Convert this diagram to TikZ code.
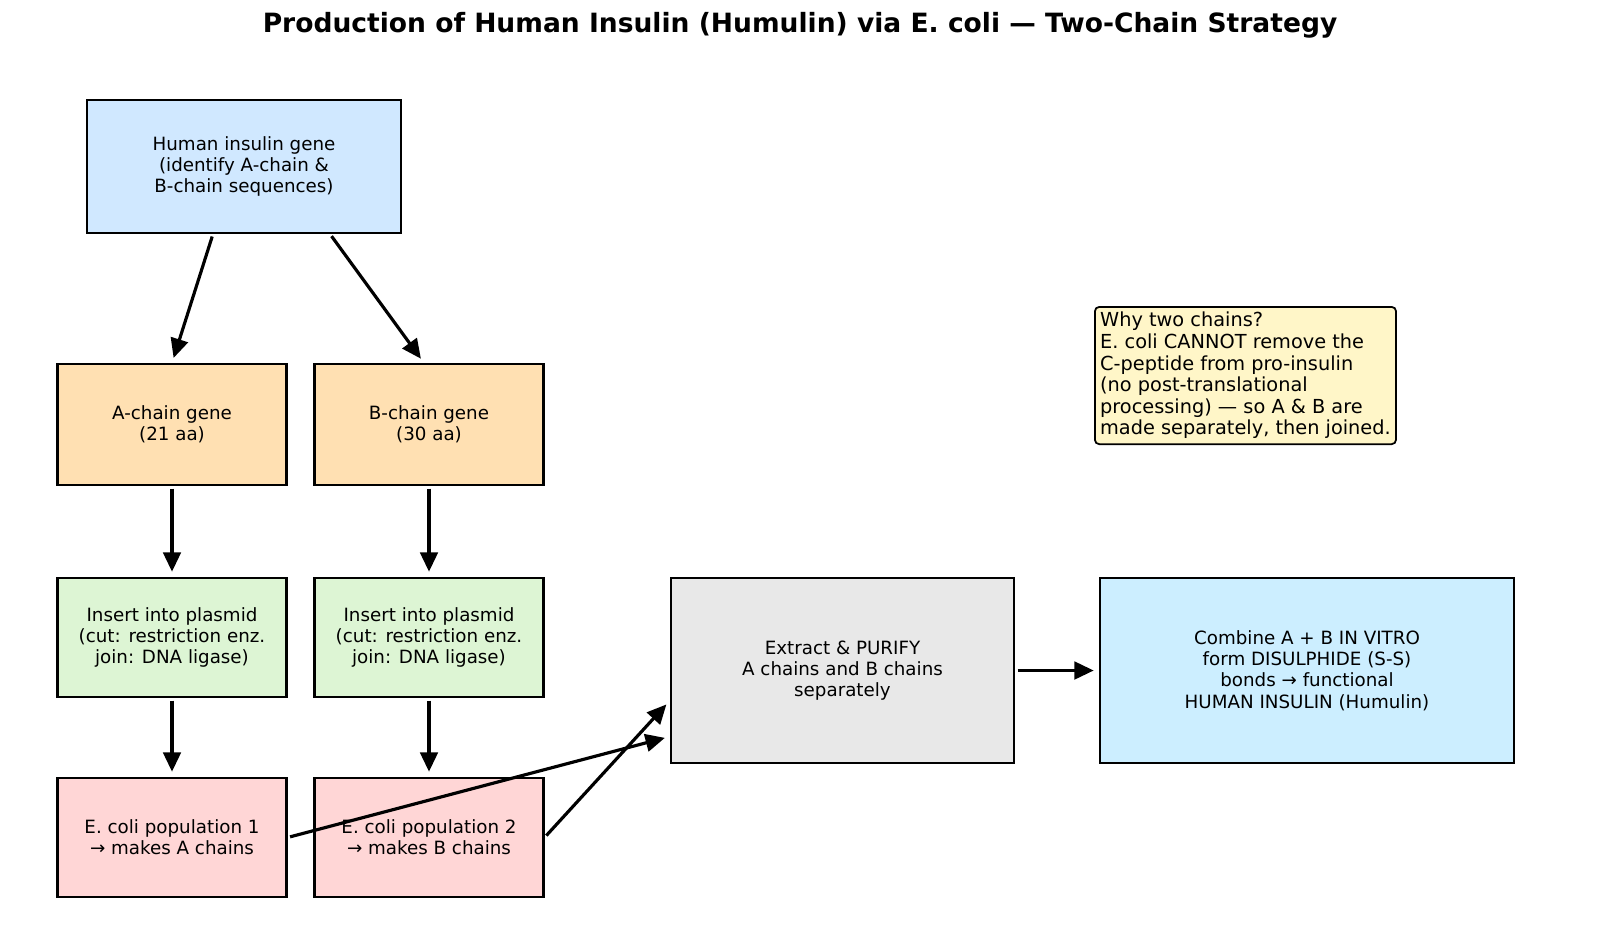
\documentclass[tikz,border=0pt]{standalone}
\usepackage{fontspec}
\setmainfont{DejaVu Sans}
\usetikzlibrary{arrows.meta,calc}
\definecolor{genecol}{RGB}{208,232,255}
\definecolor{chaincol}{RGB}{255,224,178}
\definecolor{plascol}{RGB}{221,245,212}
\definecolor{popcol}{RGB}{255,214,214}
\definecolor{purcol}{RGB}{232,232,232}
\definecolor{combcol}{RGB}{204,238,255}
\definecolor{notecol}{RGB}{255,246,200}
\begin{document}
\begin{tikzpicture}[x=0.02cm,y=-0.02cm,font=\fontsize{10.4}{12.1}\selectfont,
  box/.style={draw,line width=1.2pt,align=center,inner sep=0pt},
  arr/.style={-{Triangle[length=11pt,width=10pt]},line width=1.8pt,shorten >=3pt,shorten <=1.5pt}]
  \useasboundingbox (0,0) rectangle (1600,938);
  \node[font=\fontsize{15.1}{18}\selectfont\bfseries] (title) at (800,25)
    {Production of Human Insulin (Humulin) via E. coli — Two-Chain Strategy};

  \node[box,fill=genecol,minimum width=6.28cm,minimum height=2.66cm] (hum) at (244,166.5)
    {Human insulin gene\\(identify A-chain \&\\B-chain sequences)};
  \node[box,fill=chaincol,minimum width=4.58cm,minimum height=2.42cm] (agene) at (172,424.5) {A-chain gene\\(21 aa)};
  \node[box,fill=chaincol,minimum width=4.58cm,minimum height=2.42cm] (bgene) at (429,424.5) {B-chain gene\\(30 aa)};
  \foreach \n/\x in {a/172,b/429}{
    \node[box,fill=plascol,minimum width=4.58cm,minimum height=2.38cm] (\n plas) at (\x,637.5)
      {Insert into plasmid\\(cut: restriction enz.\\join: DNA ligase)};}
  \node[box,fill=popcol,minimum width=4.58cm,minimum height=2.38cm] (apop) at (172,837.5) {E. coli population 1\\→ makes A chains};
  \node[box,fill=popcol,minimum width=4.58cm,minimum height=2.38cm] (bpop) at (429,837.5) {E. coli population 2\\→ makes B chains};

  \node[box,fill=purcol,minimum width=6.86cm,minimum height=3.7cm] (purify) at (842.5,670.5)
    {Extract \& PURIFY\\A chains and B chains\\separately};
  \node[box,fill=combcol,minimum width=8.28cm,minimum height=3.7cm] (combine) at (1307,670.5)
    {Combine A + B IN VITRO\\form DISULPHIDE (S-S)\\bonds → functional\\HUMAN INSULIN (Humulin)};

  \node[draw,line width=1pt,fill=notecol,rounded corners=2.5pt,align=left,inner sep=3pt,anchor=north west,
    font=\fontsize{11}{12.3}\selectfont] (note) at (1094,306)
    {Why two chains?\\E. coli CANNOT remove the\\C-peptide from pro-insulin\\(no post-translational\\processing) — so A \& B are\\made separately, then joined.};

  \draw[arr] ($(hum.south)+(-31,0)$) -- (agene.north);
  \draw[arr] ($(hum.south)+(86,0)$) -- ($(bgene.north)+(-5,0)$);
  \foreach \n in {a,b}{
    \draw[arr] (\n gene) -- (\n plas);
    \draw[arr] (\n plas) -- (\n pop);}
  \draw[arr] (apop.east) -- ($(purify.west)+(0,66)$);
  \draw[arr] (bpop.east) -- ($(purify.west)+(0,30)$);
  \draw[arr] (purify) -- (combine);
\end{tikzpicture}
\end{document}
